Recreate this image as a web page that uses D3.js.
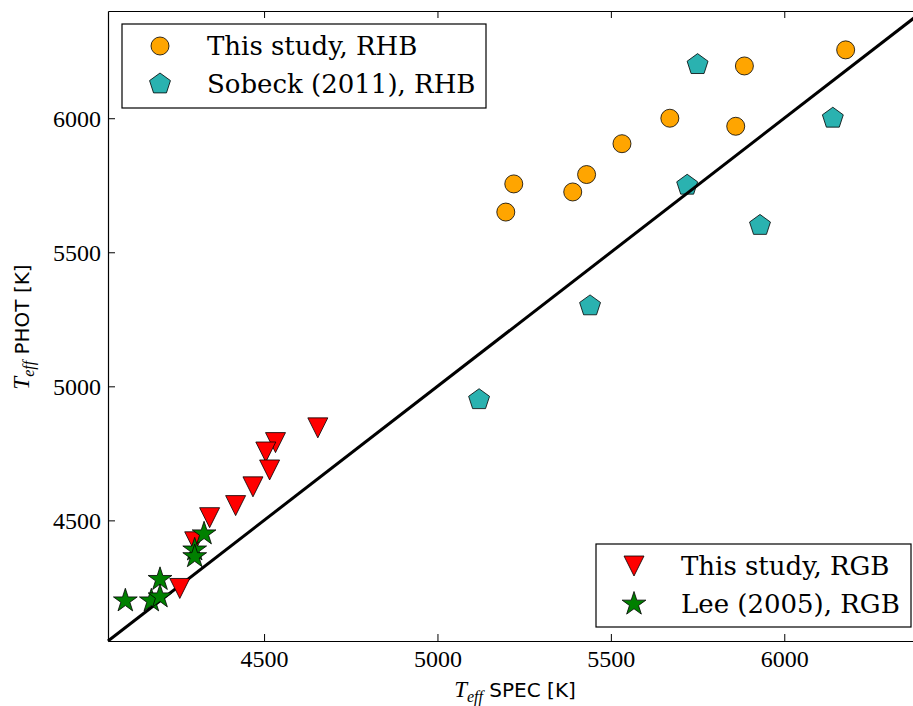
<!DOCTYPE html>
<meta charset="utf-8">
<style>
body { margin: 0; background: #fff; }
svg { display: block; overflow: hidden; }
.tick text { font-family: "Liberation Serif", serif; font-size: 24px; fill: #000; }
.legend text { font-family: "DejaVu Serif", serif; font-size: 26px; fill: #000; }
.label { font-family: "DejaVu Sans", sans-serif; font-size: 20px; fill: #000; }
.label .m { font-family: "Liberation Serif", serif; font-style: italic; font-size: 23px; }
</style>
<body>
<script src="https://d3js.org/d3.v7.min.js"></script>
<script>

// data
var rhbThis_x = [5197, 5220, 5390, 5430, 5532, 5670, 5860, 5885, 6177];
var rhbThis_y = [5650, 5755, 5725, 5790, 5905, 6000, 5970, 6195, 6255];

var rhbSobeck_x = [5750, 6140, 5720, 5930, 5440, 5120];
var rhbSobeck_y = [6200, 6000, 5750, 5600, 5300, 4950];

var rgbThis_x = [4655, 4533, 4505, 4516, 4468, 4418, 4343, 4300, 4257];
var rgbThis_y = [4845, 4790, 4755, 4688, 4625, 4555, 4510, 4420, 4246];

var rgbLee_x = [4100, 4175, 4200, 4200, 4300, 4300, 4327];
var rgbLee_y = [4200, 4200, 4215, 4280, 4390, 4365, 4450];

var ticks = [4500, 5000, 5500, 6000];
var xDomain = [4050, 6400];
var yDomain = [4050, 6400];

var margin = {top: 11, left: 108},
    width = 815,
    height = 630;

var svg = d3.select("body").append("svg")
    .attr("width", 913)
    .attr("height", 706);

var g = svg.append("g")
    .attr("transform", "translate(" + margin.left + "," + margin.top + ")");

var x = d3.scaleLinear().domain(xDomain).range([0, width]);
var y = d3.scaleLinear().domain(yDomain).range([height, 0]);

// marker shapes, matplotlib style
function polygon(n, r, start) {
  var pts = [];
  for (var i = 0; i < n; i++) {
    var a = start + i * 2 * Math.PI / n;
    pts.push([r * Math.cos(a), r * Math.sin(a)]);
  }
  return "M" + pts.join("L") + "Z";
}
function star(r) {
  var pts = [];
  for (var i = 0; i < 10; i++) {
    var a = -Math.PI / 2 + i * Math.PI / 5;
    var rr = i % 2 ? r * 0.381966 : r;
    pts.push([rr * Math.cos(a), rr * Math.sin(a)]);
  }
  return "M" + pts.join("L") + "Z";
}
var shapes = {
  circle: "M9,0A9,9 0 1,1 -9,0A9,9 0 1,1 9,0Z",
  pentagon: polygon(5, 11, -Math.PI / 2),
  triangle: "M-10,-10L10,-10L0,10Z",
  star: star(12.5)
};

function zip(xs, ys) { return xs.map(function(v, i) { return [v, ys[i]]; }); }

function drawSeries(xs, ys, shape, color) {
  g.append("g").selectAll("path")
      .data(zip(xs, ys))
    .enter().append("path")
      .attr("transform", function(d) { return "translate(" + x(d[0]) + "," + y(d[1]) + ")"; })
      .attr("d", shapes[shape])
      .attr("fill", color)
      .attr("stroke", "#000")
      .attr("stroke-width", 0.8);
}

drawSeries(rhbThis_x, rhbThis_y, "circle", "#ffa500");
drawSeries(rhbSobeck_x, rhbSobeck_y, "pentagon", "#2ab2b0");

// one-to-one line
g.append("line")
    .attr("x1", x(xDomain[0])).attr("y1", y(xDomain[0]))
    .attr("x2", x(xDomain[1])).attr("y2", y(xDomain[1]))
    .attr("stroke", "#000")
    .attr("stroke-width", 3);

drawSeries(rgbThis_x, rgbThis_y, "triangle", "#ff0000");
drawSeries(rgbLee_x, rgbLee_y, "star", "#008000");

// axes, ticks inside on all four sides
var fmt = d3.format("d");
var xb = g.append("g").attr("transform", "translate(0," + height + ")")
    .call(d3.axisBottom(x).tickValues(ticks).tickFormat(fmt).tickSizeInner(-7).tickSizeOuter(0).tickPadding(9));
var xt = g.append("g")
    .call(d3.axisTop(x).tickValues(ticks).tickSizeInner(-7).tickSizeOuter(0).tickFormat(""));
var yl = g.append("g")
    .call(d3.axisLeft(y).tickValues(ticks).tickFormat(fmt).tickSizeInner(-7).tickSizeOuter(0).tickPadding(7));
var yr = g.append("g").attr("transform", "translate(" + width + ",0)")
    .call(d3.axisRight(y).tickValues(ticks).tickSizeInner(-7).tickSizeOuter(0).tickFormat(""));
[xb, xt, yl, yr].forEach(function(a) {
  a.select(".domain").attr("stroke", "#000").attr("stroke-width", 1.2);
  a.selectAll(".tick line").attr("stroke", "#000").attr("stroke-width", 1);
});
xb.selectAll(".tick text").attr("dy", "0.71em");
yl.selectAll(".tick text").attr("dy", "0.35em");

// axis labels
var xl = svg.append("text").attr("class", "label")
    .attr("x", 515).attr("y", 697).attr("text-anchor", "middle");
xl.append("tspan").attr("class", "m").text("T");
xl.append("tspan").attr("class", "m").attr("dy", 5).style("font-size", "16px").text("eff");
xl.append("tspan").attr("dy", -5).text("  SPEC [K]");

var ylab = svg.append("text").attr("class", "label")
    .attr("transform", "translate(29,327) rotate(-90)")
    .attr("text-anchor", "middle");
ylab.append("tspan").attr("class", "m").text("T");
ylab.append("tspan").attr("class", "m").attr("dy", 5).style("font-size", "16px").text("eff");
ylab.append("tspan").attr("dy", -5).text("  PHOT [K]");

// legends
function legend(x0, y0, w, h, items) {
  var lg = svg.append("g").attr("class", "legend");
  lg.append("rect")
      .attr("x", x0).attr("y", y0).attr("width", w).attr("height", h)
      .attr("fill", "#fff").attr("stroke", "#000").attr("stroke-width", 1.2);
  items.forEach(function(it, i) {
    var cy = y0 + 22 + i * 38;
    lg.append("path")
        .attr("transform", "translate(" + (x0 + 38) + "," + cy + ")")
        .attr("d", shapes[it.shape])
        .attr("fill", it.color)
        .attr("stroke", "#000")
        .attr("stroke-width", 0.8);
    lg.append("text")
        .attr("x", x0 + 85).attr("y", cy).attr("dy", "0.35em")
        .text(it.label);
  });
}
legend(122, 24, 364, 84, [
  {shape: "circle", color: "#ffa500", label: "This study, RHB"},
  {shape: "pentagon", color: "#2ab2b0", label: "Sobeck (2011), RHB"}
]);
legend(596, 544, 315, 83, [
  {shape: "triangle", color: "#ff0000", label: "This study, RGB"},
  {shape: "star", color: "#008000", label: "Lee (2005), RGB"}
]);

</script>
</body>
